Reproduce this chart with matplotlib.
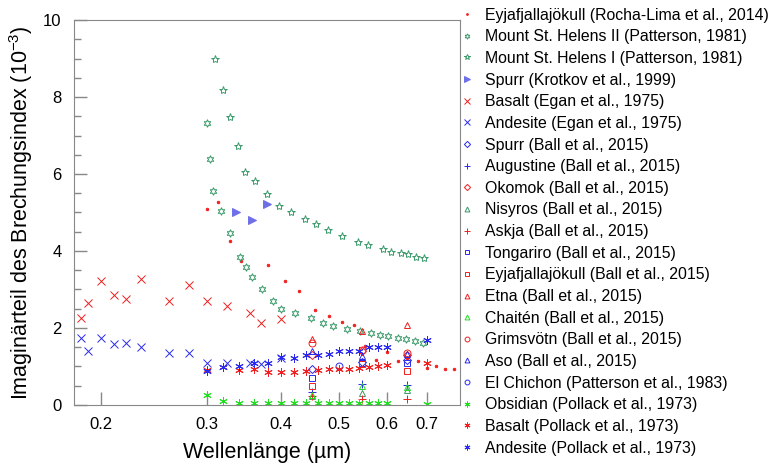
import matplotlib.pyplot as plt
from matplotlib.ticker import FixedLocator, FixedFormatter, MultipleLocator, NullLocator

plt.rcParams['font.family'] = ['Liberation Sans', 'DejaVu Sans']
plt.rcParams['mathtext.fontset'] = 'custom'
plt.rcParams['mathtext.rm'] = 'Liberation Sans'
plt.rcParams['mathtext.it'] = 'Liberation Sans:italic'

# Rocha-Lima et al. 2014
rl_x = [0.30, 0.314, 0.328, 0.343, 0.38, 0.406, 0.429, 0.455, 0.48, 0.505, 0.529,
        0.552, 0.577, 0.602, 0.627, 0.65, 0.678, 0.702, 0.726, 0.75, 0.777]
rl_y = [5.08, 5.27, 4.27, 3.75, 3.63, 3.23, 2.95, 2.47, 2.32, 2.16, 2.09,
        1.54, 1.17, 1.38, 1.15, 1.23, 1.14, 0.97, 1.0, 0.94, 0.94]

# Patterson 1981
msh2_x = [0.30, 0.304, 0.308, 0.317, 0.328, 0.341, 0.349, 0.357, 0.372, 0.388, 0.40, 0.421,
          0.449, 0.469, 0.488, 0.515, 0.542, 0.566, 0.584, 0.604, 0.628, 0.646, 0.67, 0.69]
msh2_y = [7.33, 6.39, 5.56, 5.03, 4.46, 3.85, 3.58, 3.33, 3.0, 2.69, 2.49, 2.38,
          2.25, 2.14, 2.06, 1.98, 1.92, 1.86, 1.83, 1.79, 1.75, 1.71, 1.67, 1.62]
msh1_x = [0.31, 0.319, 0.328, 0.338, 0.348, 0.361, 0.379, 0.397, 0.416, 0.439, 0.458,
          0.478, 0.506, 0.538, 0.559, 0.591, 0.611, 0.633, 0.651, 0.672, 0.692]
msh1_y = [8.98, 8.19, 7.48, 6.74, 6.06, 5.81, 5.49, 5.17, 5.02, 4.82, 4.70,
          4.54, 4.40, 4.24, 4.15, 4.05, 3.98, 3.94, 3.91, 3.85, 3.82]

# Krotkov et al. 1999
krot_x = [0.336, 0.358, 0.378]
krot_y = [5.01, 4.80, 5.21]

# Egan et al. 1975
egan_x = [0.185, 0.19, 0.20, 0.21, 0.22, 0.233, 0.26, 0.28, 0.30, 0.325, 0.354, 0.37, 0.40]
egan_basalt = [2.26, 2.65, 3.21, 2.85, 2.75, 3.26, 2.69, 3.11, 2.71, 2.58, 2.40, 2.13, 2.24]
egan_andesite = [1.73, 1.41, 1.73, 1.58, 1.61, 1.51, 1.35, 1.34, 1.09, 1.09, 1.09, 1.07, 1.22]

# Ball et al. 2015
ball_x = [0.45, 0.5467, 0.65]
ball_spurr = [0.94, 1.12, 1.16]
ball_augustine = [0.33, 0.55, 0.52]
ball_okomok = [1.30, 1.40, 1.30]
ball_nisyros = [0.22, 0.32, 0.39]
ball_askja = [0.24, 0.16, 0.16]
ball_tongariro = [0.69, 1.10, 1.10]
ball_eyjaf = [0.49, 1.06, 0.87]
ball_etna = [1.72, 1.91, 2.08]
ball_chaiten = [0.27, 0.48, 0.46]
ball_grimsvotn = [1.61, 1.43, 1.35]
ball_aso = [1.39, 1.26, 1.32]

# Patterson et al. 1983
chichon_x = [0.50]
chichon_y = [1.01]

# Pollack et al. 1973
pollack_x = [0.30, 0.32, 0.34, 0.36, 0.38, 0.40, 0.42, 0.44, 0.46, 0.48,
             0.50, 0.52, 0.54, 0.56, 0.58, 0.60, 0.70]
pollack_obsidian = [0.25, 0.10, 0.05, 0.04, 0.04, 0.04, 0.04, 0.04, 0.04, 0.04,
                    0.04, 0.04, 0.04, 0.04, 0.04, 0.04, 0.03]
pollack_basalt = [0.90, 0.98, 0.91, 0.93, 0.85, 0.85, 0.86, 0.88, 0.90, 0.93,
                  0.93, 0.94, 0.95, 0.98, 1.00, 1.04, 1.10]
pollack_andesite = [0.89, 0.98, 1.01, 1.08, 1.09, 1.24, 1.21, 1.30, 1.30, 1.32,
                    1.40, 1.40, 1.41, 1.51, 1.51, 1.51, 1.68]

xticks = [0.2, 0.3, 0.4, 0.5, 0.6, 0.7]

red = '#f02020'
blue = '#2a2aee'
green = '#22dd22'
teal = '#3a9a6a'
asterisk = (6, 2, 0)
hexstar = (6, 1, 0)

fig = plt.figure(figsize=(7.7, 4.66), dpi=100)
ax = fig.add_axes([0.096, 0.131, 0.501, 0.826])

lw = 0.7
ms = 6


def pts(x, y, marker, color, label, size=ms, fill=False):
    ax.plot(x, y, linestyle='none', marker=marker, markersize=size, color=color,
            markeredgecolor=color, markerfacecolor=color if fill else 'none',
            markeredgewidth=lw, label=label)


pts(rl_x, rl_y, 'o', red, 'Eyjafjallajökull (Rocha-Lima et al., 2014)', size=1.8, fill=True)
pts(msh2_x, msh2_y, hexstar, teal, 'Mount St. Helens II (Patterson, 1981)', size=5.5)
pts(msh1_x, msh1_y, '*', teal, 'Mount St. Helens I (Patterson, 1981)', size=6)
pts(krot_x, krot_y, '>', '#6f6fe8', 'Spurr (Krotkov et al., 1999)', fill=True)
pts(egan_x, egan_basalt, 'x', red, 'Basalt (Egan et al., 1975)')
pts(egan_x, egan_andesite, 'x', blue, 'Andesite (Egan et al., 1975)')
pts(ball_x, ball_spurr, 'D', blue, 'Spurr (Ball et al., 2015)', size=4.5)
pts(ball_x, ball_augustine, '+', blue, 'Augustine (Ball et al., 2015)')
pts(ball_x, ball_okomok, 'D', red, 'Okomok (Ball et al., 2015)', size=4.5)
pts(ball_x, ball_nisyros, '^', teal, 'Nisyros (Ball et al., 2015)', size=5)
pts(ball_x, ball_askja, '+', red, 'Askja (Ball et al., 2015)')
pts(ball_x, ball_tongariro, 's', blue, 'Tongariro (Ball et al., 2015)', size=5)
pts(ball_x, ball_eyjaf, 's', red, 'Eyjafjallajökull (Ball et al., 2015)', size=5)
pts(ball_x, ball_etna, '^', red, 'Etna (Ball et al., 2015)', size=5)
pts(ball_x, ball_chaiten, '^', green, 'Chaitén (Ball et al., 2015)', size=5)
pts(ball_x, ball_grimsvotn, 'o', red, 'Grimsvötn (Ball et al., 2015)', size=5)
pts(ball_x, ball_aso, '^', blue, 'Aso (Ball et al., 2015)', size=5)
pts(chichon_x, chichon_y, 'o', blue, 'El Chichon (Patterson et al., 1983)', size=5)
pts(pollack_x, pollack_obsidian, asterisk, green, 'Obsidian (Pollack et al., 1973)')
pts(pollack_x, pollack_basalt, asterisk, red, 'Basalt (Pollack et al., 1973)')
pts(pollack_x, pollack_andesite, asterisk, blue, 'Andesite (Pollack et al., 1973)')

ax.set_xscale('log')
ax.set_xlim(0.18, 0.795)
ax.set_ylim(0, 10)
ax.xaxis.set_major_locator(FixedLocator(xticks))
ax.xaxis.set_major_formatter(FixedFormatter([str(t) for t in xticks]))
ax.xaxis.set_minor_locator(NullLocator())
ax.yaxis.set_major_locator(MultipleLocator(2))
ax.yaxis.set_minor_locator(MultipleLocator(0.5))

ax.tick_params(which='both', direction='in', color='#888888', labelsize=12, width=1)
ax.tick_params(which='major', length=9.5, pad=9)
ax.tick_params(which='minor', length=5)
for s in ax.spines.values():
    s.set_color('#888888')

ax.set_xlabel('Wellenlänge (µm)', fontsize=15.5, labelpad=7)
ax.set_ylabel('Imaginärteil des Brechungsindex (10$^{-3}$)', fontsize=15.5, labelpad=6)

ax.legend(loc='upper left', bbox_to_anchor=(0.594, 0.987), bbox_transform=fig.transFigure,
          frameon=False, fontsize=11.4, markerscale=0.7, handlelength=1.0,
          handletextpad=0.65, labelspacing=0.42, borderaxespad=0.0, borderpad=0.1)

fig.savefig('out.png', dpi=100)
